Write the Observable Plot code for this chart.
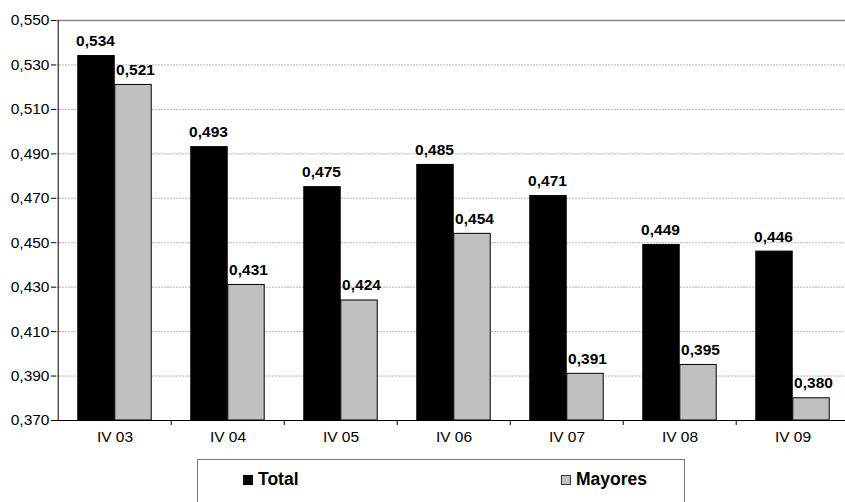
<!DOCTYPE html>
<html><head><meta charset="utf-8">
<script src="https://cdn.jsdelivr.net/npm/d3@7"></script>
<script src="https://cdn.jsdelivr.net/npm/@observablehq/plot@0.6"></script>
<style>
html,body{margin:0;padding:0;background:#fff;overflow:hidden;width:845px;height:502px;}
#wrap{position:relative;width:845px;height:502px;font-family:"Liberation Sans",Arial,sans-serif;}
#legend{position:absolute;left:197px;top:459px;width:488px;height:60px;border:1px solid #7a7a7a;box-sizing:border-box;}
.li{position:absolute;top:9px;font-weight:bold;font-size:17.5px;color:#000;display:flex;align-items:center;}
.sw{display:inline-block;width:10px;height:10px;margin-right:5px;box-sizing:border-box;}
</style></head>
<body><div id="wrap"><div id="chart"></div>
<div id="legend">
<div class="li" style="left:45px"><span class="sw" style="background:#000"></span>Total</div>
<div class="li" style="left:363px"><span class="sw" style="background:#c0c0c0;border:1px solid #333"></span>Mayores</div>
</div></div>
<script>
const categories = ["IV 03","IV 04","IV 05","IV 06","IV 07","IV 08","IV 09"];
const totalValues = [0.534,0.493,0.475,0.485,0.471,0.449,0.446];
const mayoresValues = [0.521,0.431,0.424,0.454,0.391,0.395,0.380];
const yTicks = [0.370,0.390,0.410,0.430,0.450,0.470,0.490,0.510,0.530,0.550];

const total = categories.map((c,i)=>({cat:c, v:totalValues[i]}));
const mayores = categories.map((c,i)=>({cat:c, v:mayoresValues[i]}));

const W = 845, H = 452;
const xRange = [56, 851];
const bw = (xRange[1]-xRange[0])/categories.length;
const barW = 37;
const gap = (bw - 2*barW)/2;
const fmt = d => d3.format(".3f")(d).replace(".", ",");
const yMin = 0.37, yMax = 0.55;

const chart = Plot.plot({
  width: W, height: H,
  marginTop: 20, marginBottom: 32, marginLeft: 56, marginRight: 0,
  style: {fontFamily: '"Liberation Sans", Arial, sans-serif', background: "#fff", overflow: "visible"},
  x: {type: "band", domain: categories, range: xRange, padding: 0},
  y: {domain: [yMin, yMax]},
  marks: [
    Plot.ruleY(yTicks.slice(1, -1), {stroke: "#b4b4b4", strokeDasharray: "2,1", strokeWidth: 1}),
    Plot.ruleY([yMax], {stroke: "#8a8a8a", strokeWidth: 1.5}),
    Plot.barY(total, {x: "cat", y1: yMin, y2: "v", fill: "#000", stroke: "#000", strokeWidth: 1,
      insetLeft: gap, insetRight: bw - gap - barW}),
    Plot.barY(mayores, {x: "cat", y1: yMin, y2: "v", fill: "#c0c0c0", stroke: "#000", strokeWidth: 1,
      insetLeft: gap + barW, insetRight: gap}),
    Plot.text(total, {x: "cat", y: "v", text: d => fmt(d.v), dy: -15, dx: -barW/2 - 1,
      fontWeight: "bold", fontSize: 15.5, fill: "#000"}),
    Plot.text(mayores, {x: "cat", y: "v", text: d => fmt(d.v), dy: -15, dx: barW/2 + 2,
      fontWeight: "bold", fontSize: 15.5, fill: "#000"}),
    Plot.ruleY([yMin], {stroke: "#000", strokeWidth: 1}),
    Plot.ruleX(categories.slice(0,1), {x: d => d, y1: yMin, y2: yMax, dx: -bw/2, stroke: "#000"}),
    Plot.ruleX(categories.slice(1), {x: d => d, y1: yMin, y2: yMin, insetBottom: -5, dx: -bw/2, stroke: "#000"}),
    Plot.axisY({ticks: yTicks, tickFormat: fmt, tickSize: 5, tickPadding: 2, fontSize: 15.5, label: null, stroke: "#000", fill: "#000"}),
    Plot.axisX({tickSize: 0, tickPadding: 10, fontSize: 15.5, label: null, fill: "#000"})
  ]
});
document.getElementById("chart").appendChild(chart);
</script></body></html>
